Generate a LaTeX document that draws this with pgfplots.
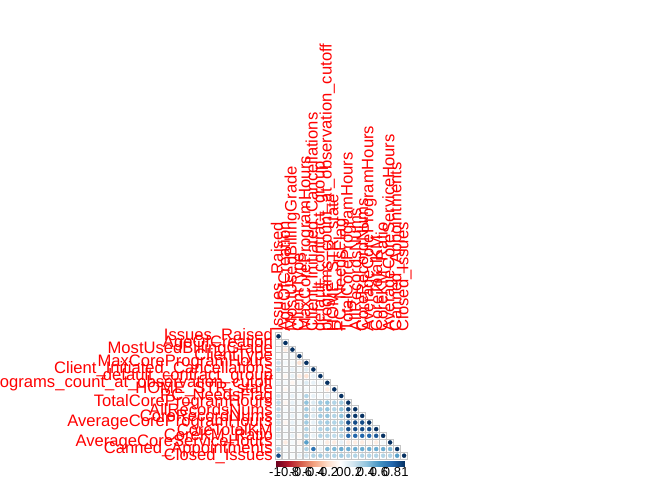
\documentclass[border=0pt]{standalone}
\usepackage{pgfplots}
\pgfplotsset{compat=1.18}
\usepackage{pgfplotstable}
\usepackage{fontspec}
\setmainfont{Liberation Sans}
\pgfplotstableread{
x y r
1 1 1
1 2 0.05
2 2 1
1 3 0.05
2 3 -0.1
3 3 1
1 4 0.02
2 4 0.05
3 4 0.05
4 4 1
1 5 0.2
2 5 0.05
3 5 0.05
4 5 -0.15
5 5 1
1 6 0.25
2 6 0.05
3 6 0.1
4 6 0.05
5 6 0.15
6 6 1
1 7 0.05
2 7 -0.05
3 7 0.1
4 7 -0.1
5 7 -0.15
6 7 0.1
7 7 1
1 8 0.1
2 8 0.05
3 8 -0.05
4 8 0.05
5 8 0.15
6 8 0.1
7 8 0.05
8 8 1
1 9 0.05
2 9 -0.05
3 9 0.05
4 9 0.05
5 9 0.05
6 9 0.05
7 9 0.05
8 9 -0.1
9 9 1
1 10 0.2
2 10 0.05
3 10 0.1
4 10 0.05
5 10 0.3
6 10 0.1
7 10 0.05
8 10 0.1
9 10 0.05
10 10 1
1 11 0.25
2 11 -0.05
3 11 0.1
4 11 0.05
5 11 0.4
6 11 0.15
7 11 0.35
8 11 0.4
9 11 0.3
10 11 0.35
11 11 1
1 12 0.25
2 12 0.05
3 12 0.1
4 12 0.05
5 12 0.35
6 12 0.15
7 12 0.35
8 12 0.4
9 12 0.3
10 12 0.4
11 12 0.95
12 12 1
1 13 0.25
2 13 0.05
3 13 0.1
4 13 0.05
5 13 0.35
6 13 0.15
7 13 0.35
8 13 0.4
9 13 0.3
10 13 0.4
11 13 0.95
12 13 0.98
13 13 1
1 14 0.2
2 14 -0.05
3 14 0.1
4 14 0.05
5 14 0.35
6 14 0.1
7 14 0.3
8 14 0.35
9 14 0.3
10 14 0.35
11 14 0.9
12 14 0.9
13 14 0.9
14 14 1
1 15 0.2
2 15 0.05
3 15 0.1
4 15 0.05
5 15 0.3
6 15 0.1
7 15 0.3
8 15 0.35
9 15 0.3
10 15 0.35
11 15 0.9
12 15 0.9
13 15 0.9
14 15 0.9
15 15 1
1 16 0.15
2 16 0.05
3 16 0.1
4 16 -0.05
5 16 0.3
6 16 0.1
7 16 0.3
8 16 0.3
9 16 0.25
10 16 0.3
11 16 0.8
12 16 0.8
13 16 0.8
14 16 0.8
15 16 0.85
16 16 1
1 17 0.05
2 17 -0.1
3 17 0.05
4 17 -0.05
5 17 0.55
6 17 -0.05
7 17 0.05
8 17 -0.1
9 17 -0.1
10 17 0.1
11 17 -0.1
12 17 -0.1
13 17 -0.1
14 17 -0.05
15 17 -0.1
16 17 0.05
17 17 1
1 18 0.3
2 18 0.05
3 18 0.05
4 18 0.05
5 18 0.3
6 18 0.75
7 18 0.1
8 18 0.45
9 18 0.45
10 18 0.5
11 18 0.5
12 18 0.5
13 18 0.5
14 18 0.5
15 18 0.5
16 18 0.5
17 18 0.45
18 18 1
1 19 0.9
2 19 0.05
3 19 0.05
4 19 0.1
5 19 0.2
6 19 0.3
7 19 0.35
8 19 0.3
9 19 0.3
10 19 0.35
11 19 0.3
12 19 0.3
13 19 0.3
14 19 0.3
15 19 0.3
16 19 0.3
17 19 0.3
18 19 0.55
19 19 1
}\corr
\begin{document}
\begin{tikzpicture}
\path[use as bounding box] (0,0) rectangle (672bp,480bp);
\begin{axis}[
  at={(275bp,21bp)}, anchor=south west,
  scale only axis, width=132.6bp, height=126bp,
  xmin=0.5, xmax=19.5, ymin=0.5, ymax=19.5,
  y dir=reverse,
  axis line style={draw=none},
  major tick length=0,
  xtick={1,...,19}, ytick={1,...,19},
  xticklabel pos=upper,
  xticklabels={Issues\_Raised,AgeOfCreation,MostUsedBillingGrade,ClientType,MaxCoreProgramHours,Client\_Initiated\_Cancellations,default\_contract\_group,programs\_count\_at\_observation\_cutoff,HOME\_STR\_state,PC\_NeedsFlag,TotalCoreProgramHours,AllRecordsNums,CoreRecordNums,AverageCoreProgramHours,CoreTotalKM,CoreKM\_Ratio,AverageCoreServiceHours,Canned\_Appointments,Closed\_Issues},
  yticklabels={Issues\_Raised,AgeOfCreation,MostUsedBillingGrade,ClientType,MaxCoreProgramHours,Client\_Initiated\_Cancellations,default\_contract\_group,programs\_count\_at\_observation\_cutoff,HOME\_STR\_state,PC\_NeedsFlag,TotalCoreProgramHours,AllRecordsNums,CoreRecordNums,AverageCoreProgramHours,CoreTotalKM,CoreKM\_Ratio,AverageCoreServiceHours,Canned\_Appointments,Closed\_Issues},
  xticklabel style={rotate=90, anchor=west, red, font=\fontsize{16.6bp}{16.6bp}\selectfont, inner sep=1.5bp},
  yticklabel style={anchor=east, red, font=\fontsize{16.6bp}{16.6bp}\selectfont, inner sep=2bp},
  colormap={RdBu}{rgb255=(103,0,31) rgb255=(178,24,43) rgb255=(214,96,77) rgb255=(244,165,130) rgb255=(253,219,199) rgb255=(255,255,255) rgb255=(209,229,240) rgb255=(146,197,222) rgb255=(67,147,195) rgb255=(33,102,172) rgb255=(5,48,97)},
  point meta min=-1, point meta max=1,
  colorbar horizontal,
  colorbar style={
    at={(parent axis.south west)}, anchor=north west, yshift=6bp,
    width=130bp, height=5bp, scale only axis,
    axis line style={draw=none}, major tick length=0,
    xtick={-1,-0.8,-0.6,-0.4,-0.2,0,0.2,0.4,0.6,0.8,1},
    xticklabels={-1,-0.8,-0.6,-0.4,-0.2,0,0.2,0.4,0.6,0.8,1},
    xticklabel style={font=\fontsize{13bp}{13bp}\selectfont, inner sep=0.5bp, black},
  },
  clip=false,
]
\addplot[only marks, mark=square*, mark size=3.4bp, mark options={draw=gray!45, fill=white, line width=1bp}] table[x=x,y=y] {\corr};
\addplot[scatter, only marks, mark=*, point meta=\thisrow{r},
  visualization depends on={sqrt(abs(\thisrow{r})) \as \rr},
  scatter/@pre marker code/.append style={/tikz/mark size=3.2*\rr},
  scatter/use mapped color={draw=mapped color, fill=mapped color}]
  table[x=x,y=y] {\corr};
\end{axis}
\end{tikzpicture}
\end{document}
